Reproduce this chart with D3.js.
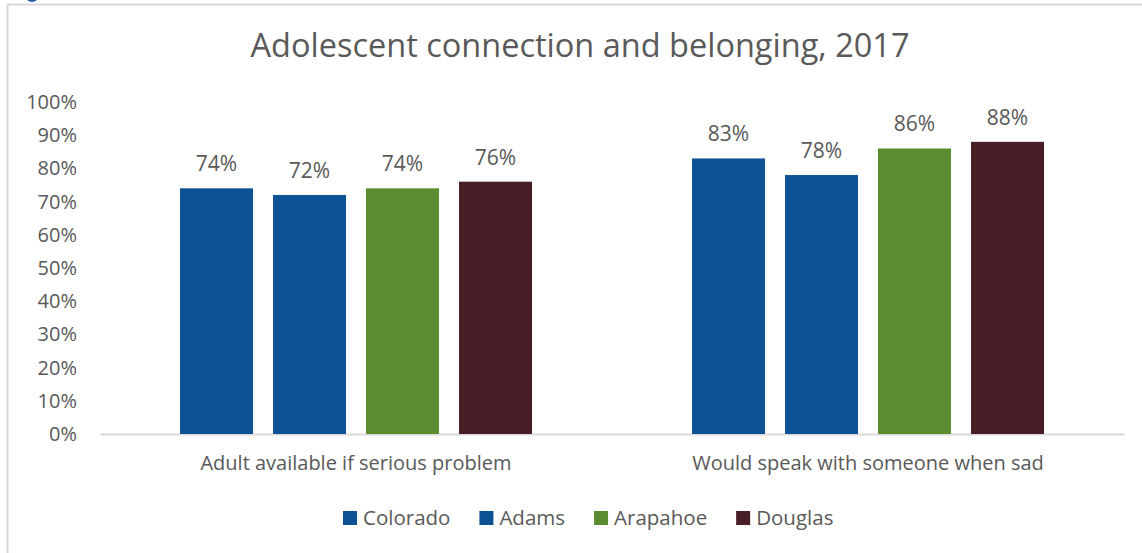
<!DOCTYPE html>
<html lang="en">
	<head>
		<meta charset="utf-8">
		<title>connection and belonging</title>
		<script type="text/javascript" src="https://d3js.org/d3.v7.min.js"></script>
		<style type="text/css">
            body{margin:0;background:white;font-family:"Open Sans",sans-serif;}
            #chart1{width:1142px;height:553px;}
            .tick text{fill:#595959;}
		</style>
	</head>
	<body>
    <div id="chart1"></div>
		<script type="text/javascript">

            var questions = ["Adult available if serious problem", "Would speak with someone when sad"]
            var counties = ["Colorado", "Adams", "Arapahoe", "Douglas"]
            var colorado = [0.74, 0.83]
            var adams = [0.72, 0.78]
            var arapahoe = [0.74, 0.86]
            var douglas = [0.76, 0.88]
            var yTicks = [0, 0.1, 0.2, 0.3, 0.4, 0.5, 0.6, 0.7, 0.8, 0.9, 1]
            var colors = ["#0c5294", "#0c5294", "#5b8c2f", "#491d25"]

            var series = [colorado, adams, arapahoe, douglas]
            var rows = []
            questions.forEach(function(q, i){
                counties.forEach(function(c, j){
                    rows.push({question: q, county: c, value: series[j][i]})
                })
            })

            var w = 1142
            var h = 553
            var textColor = "#595959"

            var svg = d3.select("#chart1")
                        .append("svg")
                        .attr("width", w)
                        .attr("height", h)

            // chart frame, only top and left edges fall inside the window
            svg.append("path")
               .attr("d", "M7.5," + h + "V4.5H" + w)
               .style("fill", "none")
               .style("stroke", "#d9d9d9")
               .style("stroke-width", 2)

            // bit of a blue icon peeking in at the top
            svg.append("ellipse")
               .attr("cx", 32).attr("cy", -3).attr("rx", 6).attr("ry", 5)
               .style("fill", "#1f5fae")

            svg.append("text")
               .attr("x", 580)
               .attr("y", 57)
               .attr("text-anchor", "middle")
               .style("font-size", "32.5px")
               .style("fill", textColor)
               .text("Adolescent connection and belonging, 2017")

            var xScale = d3.scaleBand().domain(questions).range([100, 1124])
            var innerScale = d3.scaleBand().domain(counties).range([0, xScale.bandwidth()])
                               .paddingInner(0.215).paddingOuter(0.86)
            var yScale = d3.scaleLinear().domain([0, 1]).range([434, 102])

            var yAxis = d3.axisLeft()
                .scale(yScale)
                .tickValues(yTicks)
                .tickFormat(d3.format(".0%"))
                .tickSize(0)
                .tickPadding(0)
            svg.append("g")
                .attr("class", "axis")
                .attr("transform", "translate(77,0)")
                .call(yAxis)
                .call(function(g){ g.select(".domain").remove() })
                .selectAll("text")
                .style("font-family", "Open Sans")
                .style("font-size", "20px")

            var xAxis = d3.axisBottom()
                .scale(xScale)
                .tickSize(0)
                .tickPadding(22)
            svg.append("g")
                .attr("class", "axis")
                .attr("transform", "translate(0,434)")
                .call(xAxis)
                .call(function(g){ g.select(".domain").style("stroke", "#d9d9d9").style("stroke-width", 2) })
                .selectAll("text")
                .style("font-family", "Open Sans")
                .style("font-size", "20px")

            svg.selectAll(".bar")
                .data(rows)
                .enter()
                .append("rect")
                .attr("class", "bar")
                .attr("x", function(d){ return xScale(d.question) + innerScale(d.county) })
                .attr("y", function(d){ return yScale(d.value) })
                .attr("width", innerScale.bandwidth())
                .attr("height", function(d){ return yScale(0) - yScale(d.value) })
                .attr("fill", function(d){ return colors[counties.indexOf(d.county)] })

            svg.selectAll(".label")
                .data(rows)
                .enter()
                .append("text")
                .attr("class", "label")
                .attr("x", function(d){ return xScale(d.question) + innerScale(d.county) + innerScale.bandwidth() / 2 })
                .attr("y", function(d){ return yScale(d.value) - 17 })
                .attr("text-anchor", "middle")
                .style("font-size", "21px")
                .style("fill", textColor)
                .text(function(d){ return d3.format(".0%")(d.value) })

            // legend, laid out left to right by measured text width
            var legend = svg.append("g").attr("transform", "translate(343,511)")
            var lx = 0
            counties.forEach(function(c, i){
                var item = legend.append("g").attr("transform", "translate(" + lx + ",0)")
                item.append("rect")
                    .attr("width", 14).attr("height", 14)
                    .attr("fill", colors[i])
                var t = item.append("text")
                    .attr("x", 20)
                    .attr("y", 14)
                    .style("font-size", "20.5px")
                    .style("fill", textColor)
                    .text(c)
                lx += 20 + t.node().getComputedTextLength() + 29
            })
        </script>
	</body>
</html>
